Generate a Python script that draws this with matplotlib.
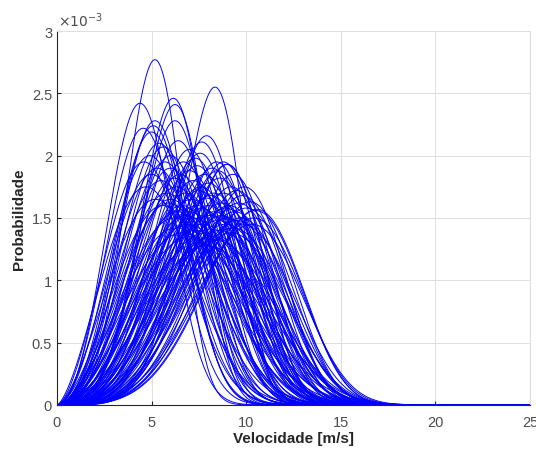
import numpy as np
import matplotlib
matplotlib.use('Agg')
import matplotlib.pyplot as plt

plt.rcParams['font.family'] = ['Liberation Sans', 'DejaVu Sans']

# Moda (m/s) e pico (x1e-3) de cada curva de Weibull
modo = [5.18, 4.39, 6.15, 6.24, 8.35, 4.56, 5.18, 5.09, 6.24, 6.41,
        7.65, 7.91, 7.56, 8.44, 8.79, 6.68, 5.62, 5.00, 8.97, 10.2,
        10.55, 10.5, 6.0, 6.5, 7.0, 7.2, 7.4, 7.8, 8.0, 8.2,
        8.6, 9.0, 9.2, 9.5, 9.8, 6.3, 6.8, 7.1, 7.5, 7.9,
        8.3, 8.7, 9.1, 9.4, 9.7, 6.0, 6.6, 7.0, 7.6, 8.1,
        8.5, 8.9, 9.3, 6.2, 6.9, 7.3, 7.8, 8.2, 7.5, 7.9,
        8.4, 6.6, 5.8, 5.5, 5.7, 6.0, 5.3, 4.9, 5.4, 7.0,
        7.3, 8.0, 8.8, 9.6, 10.0, 9.9, 9.3, 8.5, 6.4, 7.2,
        8.6, 10.3, 9.0, 7.7, 4.7, 5.9, 6.2, 7.6, 8.1, 8.9,
        9.5, 6.8, 7.4, 8.3, 9.2, 7.0, 5.6, 6.3, 8.7, 9.8,
        10.4, 5.0, 4.6, 5.2]
pico = [2.77, 2.42, 2.46, 2.41, 2.55, 2.22, 2.28, 2.24, 2.28, 2.12,
        2.11, 2.16, 2.02, 1.95, 1.95, 1.95, 2.07, 2.19, 1.93, 1.63,
        1.57, 1.56, 1.90, 1.85, 1.88, 1.80, 1.92, 1.85, 1.78, 1.90,
        1.82, 1.93, 1.75, 1.72, 1.68, 1.75, 1.70, 1.65, 1.72, 1.66,
        1.70, 1.62, 1.60, 1.55, 1.50, 1.65, 1.60, 1.55, 1.58, 1.52,
        1.48, 1.45, 1.42, 1.50, 1.45, 1.40, 1.38, 1.35, 1.30, 1.28,
        1.32, 1.38, 1.70, 1.80, 1.95, 2.00, 1.90, 2.00, 2.10, 2.05,
        1.98, 1.60, 1.70, 1.62, 1.58, 1.75, 1.85, 1.88, 1.55, 1.50,
        1.40, 1.45, 1.50, 1.45, 1.75, 1.62, 1.82, 1.75, 1.68, 1.58,
        1.48, 1.52, 1.60, 1.55, 1.38, 1.35, 1.60, 1.42, 1.52, 1.45,
        1.50, 1.85, 1.95, 1.65]

dv = 0.01
v = np.arange(0, 25 + dv / 2, dv)


def weibull_param(m, h):
    # acha k tal que (k-1)*exp(-(k-1)/k) = h*m/10, depois c pela moda
    alvo = h * m / 10.0
    lo, hi = 1.01, 30.0
    for _ in range(60):
        k = 0.5 * (lo + hi)
        if (k - 1) * np.exp(-(k - 1) / k) < alvo:
            lo = k
        else:
            hi = k
    a = (k - 1) / k
    c = m / a ** (1 / k)
    return k, c


fig = plt.figure(figsize=(5.36, 4.52), dpi=100)
ax = fig.add_axes([0.1063, 0.1018, 0.8825, 0.8274])

for m, h in zip(modo, pico):
    k, c = weibull_param(m, h)
    p = (k / c) * (v / c) ** (k - 1) * np.exp(-(v / c) ** k) * dv * 1000
    ax.plot(v, p, color=(0, 0, 1), lw=0.7)

ax.set_xlim(0, 25)
ax.set_ylim(0, 3)
ax.set_xticks([0, 5, 10, 15, 20, 25])
ax.set_yticks([0, 0.5, 1, 1.5, 2, 2.5, 3])
ax.set_yticklabels(['0', '0.5', '1', '1.5', '2', '2.5', '3'])
ax.grid(True, color='#dedede', lw=0.7)
ax.set_axisbelow(True)
for s in ['top', 'right']:
    ax.spines[s].set_color('#dedede')
for s in ['left', 'bottom']:
    ax.spines[s].set_color('#262626')
ax.tick_params(direction='in', length=3, colors='#262626', labelsize=10.5,
               top=False, right=False)
ax.tick_params(axis='x', pad=7)
ax.tick_params(axis='both', labelcolor='#4d4d4d')
ax.set_xlabel('Velocidade [m/s]', fontsize=11, fontweight='bold', color='#262626',
              labelpad=2)
ax.set_ylabel('Probabilidade', fontsize=11, fontweight='bold', color='#262626')
ax.text(0.003, 1.005, r'$\times10^{-3}$', transform=ax.transAxes, ha='left',
        va='bottom', fontsize=10, color='#4d4d4d')

fig.savefig('out.png', dpi=100)
